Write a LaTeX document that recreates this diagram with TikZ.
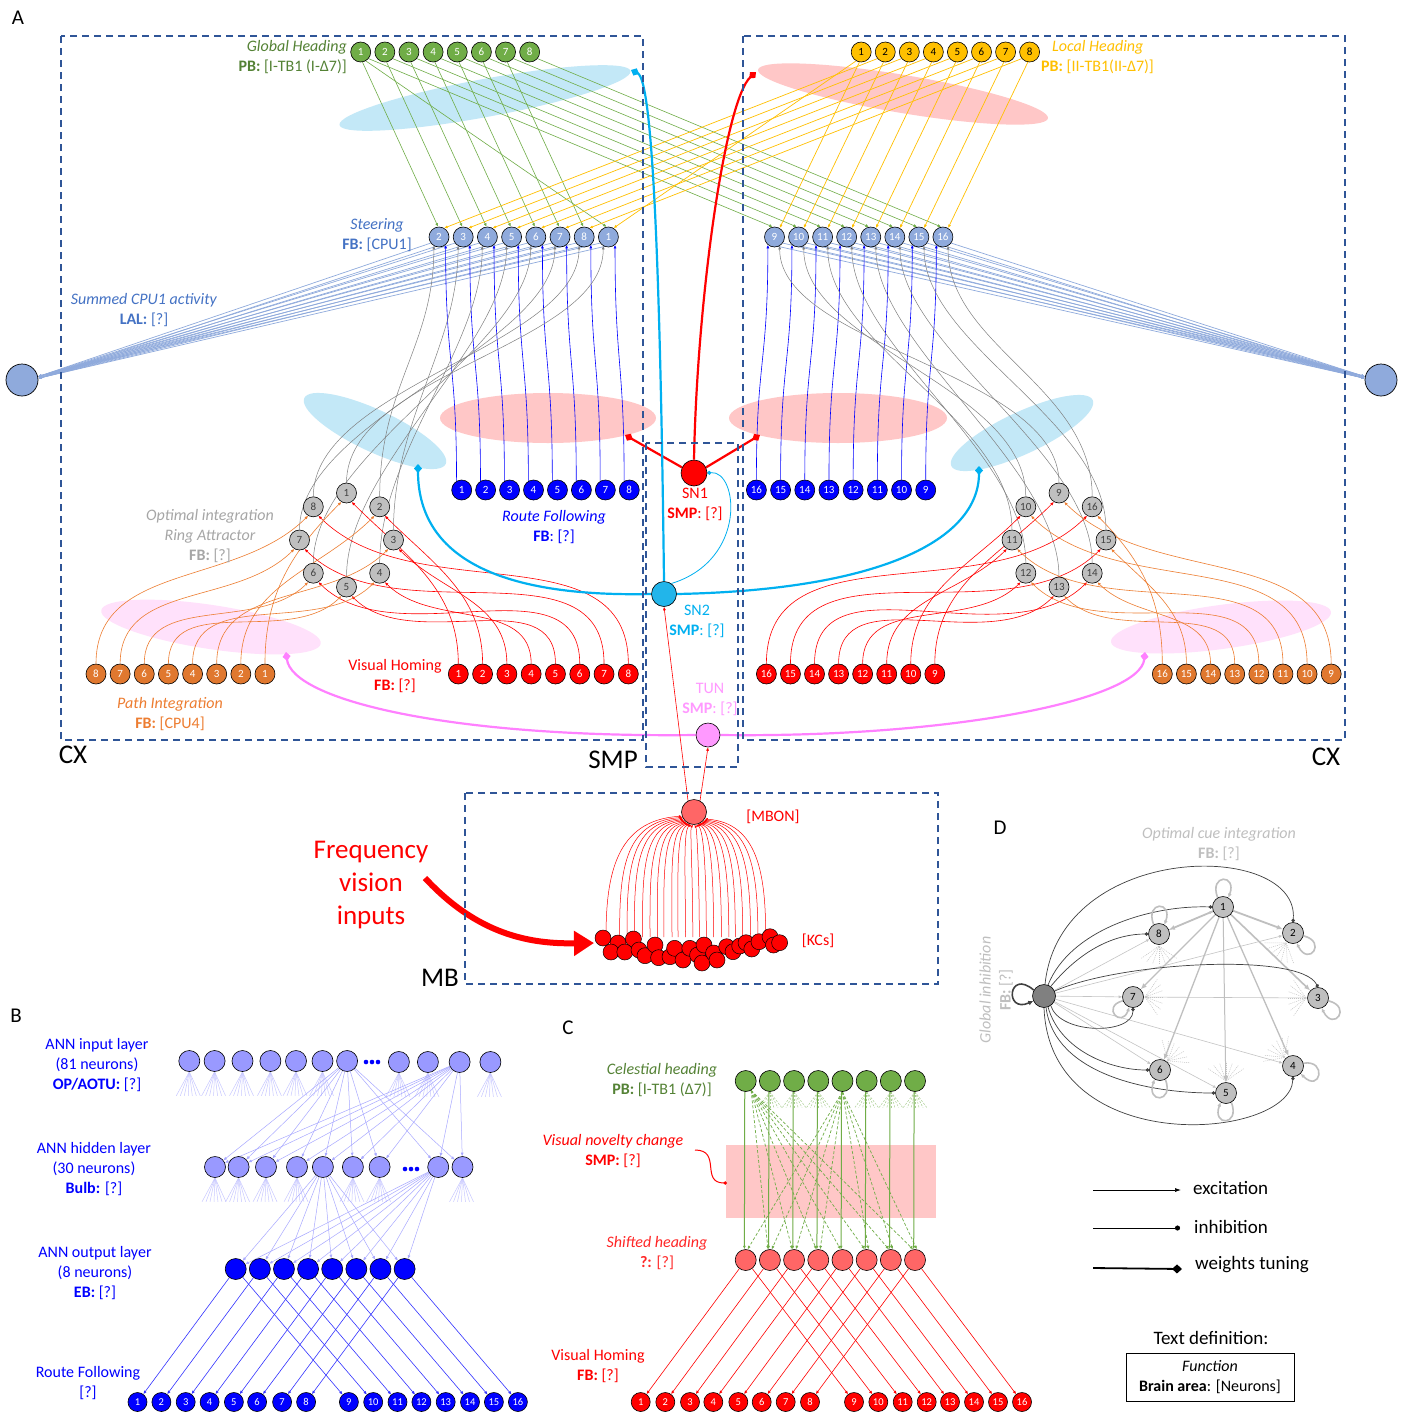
\documentclass[tikz,border=0pt]{standalone}
\usepackage{fontspec}
\setmainfont{Carlito}
\usetikzlibrary{arrows.meta,calc}
\pgfdeclarelayer{ellayer}
\pgfdeclarelayer{edgelayer}
\pgfsetlayers{ellayer,edgelayer,main}
\definecolor{gfill}{HTML}{70AD47}
\definecolor{gtext}{HTML}{548235}
\definecolor{yfill}{HTML}{FFC000}
\definecolor{cpuf}{HTML}{8FAADC}
\definecolor{cput}{HTML}{4472C4}
\definecolor{rfb}{HTML}{0000FF}
\definecolor{ringf}{HTML}{BFBFBF}
\definecolor{ringt}{HTML}{A6A6A6}
\definecolor{ringn}{HTML}{404040}
\definecolor{pif}{HTML}{E0782F}
\definecolor{pit}{HTML}{ED7D31}
\definecolor{sn2c}{HTML}{00B0F0}
\definecolor{sn2f}{HTML}{22B5EA}
\definecolor{tunc}{HTML}{FF80FF}
\definecolor{tunf}{HTML}{FF99FF}
\definecolor{mbonf}{HTML}{FF6666}
\definecolor{boxc}{HTML}{2F5597}
\definecolor{ellb}{HTML}{C3E8F7}
\definecolor{ellr}{HTML}{FFC7C7}
\definecolor{ellp}{HTML}{FFE1FB}
\definecolor{lav}{HTML}{9999FF}
\definecolor{lavl}{HTML}{A8A8FF}
\definecolor{lavs}{HTML}{C8C8FF}
\definecolor{dgray}{HTML}{404040}
\definecolor{lgray}{HTML}{C4C4C4}
\definecolor{dtext}{HTML}{BFBFBF}
\definecolor{shf}{HTML}{FF6666}
\tikzset{
  nd/.style={circle,draw=black,line width=0.6pt,minimum size=20pt,inner sep=0pt,font=\fontsize{11}{11}\selectfont},
  sm/.style={nd,minimum size=19pt,font=\fontsize{10.5}{10.5}\selectfont},
  bn/.style={circle,draw=black,line width=0.6pt,minimum size=21pt,inner sep=0pt},
  lbl/.style={font=\fontsize{16}{20}\selectfont,align=center,inner sep=0pt},
  lgd/.style={font=\fontsize{19}{22}\selectfont,inner sep=0pt},
  big/.style={font=\fontsize{27}{27}\selectfont,inner sep=0pt},
  panl/.style={font=\fontsize{21}{21}\selectfont,inner sep=0pt},
  dbox/.style={draw=boxc,line width=1.6pt,dash pattern=on 7pt off 5pt},
  arr/.style={-{Latex[length=3.5pt,width=3pt]}},
  gline/.style={draw=gfill,line width=0.6pt,arr},
  yline/.style={draw=yfill,line width=0.7pt,arr},
  bline/.style={draw=rfb,line width=0.6pt,arr},
  grline/.style={draw=gray,line width=0.5pt,arr},
  rline/.style={draw=red,line width=0.6pt,arr},
  oline/.style={draw=pit,line width=0.6pt,arr},
  lalline/.style={draw=cpuf,line width=0.7pt,arr},
  wt/.style={line width=2.2pt,-{Diamond[length=9pt,width=8pt]}},
  lavline/.style={draw=lavl,line width=0.5pt,arr},
  lavstub/.style={draw=lavs,line width=0.5pt},
  bbline/.style={draw=rfb!80,line width=0.6pt,arr},
  cgreen/.style={draw=gfill,line width=1pt,arr},
  cdash/.style={draw=gfill,line width=0.7pt,dash pattern=on 3pt off 2pt,arr},
  cstub/.style={draw=gfill!60,line width=0.5pt,dash pattern=on 2pt off 1.5pt},
  dinh/.style={draw=dgray,line width=0.7pt,-{Circle[length=3.5pt]}},
  dlight/.style={draw=lgray,line width=0.6pt,arr},
  dthick/.style={draw=ringf,-{Latex[length=6pt,width=5pt]}},
  dloop/.style={draw=ringf,line width=1.6pt,-{Latex[length=4pt,width=4pt]}},
  dfan/.style={draw=lgray,line width=0.5pt,dash pattern=on 1pt off 1pt},
  kcarc/.style={draw=red,line width=0.5pt,-{Latex[length=3pt,width=2.5pt]}},
}
\begin{document}
\begin{tikzpicture}[x=1pt,y=-1pt]
\useasboundingbox (0,0) rectangle (1408,1414);

% ================= PANEL A nodes =================
\foreach \k in {1,...,8}{
  \node[nd,fill=gfill,text=white] (g\k) at ({360.7+24.14*(\k-1)},52) {\k};
  \node[nd,fill=yfill,text=black] (lh\k) at ({861.2+24.06*(\k-1)},52) {\k};
}
\foreach \k/\l in {1/2,2/3,3/4,4/5,5/6,6/7,7/8,8/1}
  \node[nd,fill=cpuf,text=white] (cl\k) at ({439+24.2*(\k-1)},237) {\l};
\foreach \k [evaluate=\k as \l using int(\k+8)] in {1,...,8}
  \node[nd,fill=cpuf,text=white] (cr\k) at ({774.5+24.06*(\k-1)},237) {\l};
\foreach \k in {1,...,8}
  \node[nd,fill=rfb,text=white] (rl\k) at ({461.7+23.94*(\k-1)},490) {\k};
\foreach \k [evaluate=\k as \l using int(17-\k)] in {1,...,8}
  \node[nd,fill=rfb,text=white] (rr\k) at ({756.4+24.19*(\k-1)},490) {\l};
\foreach \k in {1,...,8}
  \node[nd,fill=red,text=white] (vl\k) at ({458.3+24.29*(\k-1)},674) {\k};
\foreach \k [evaluate=\k as \l using int(17-\k)] in {1,...,8}
  \node[nd,fill=red,text=white] (vr\k) at ({766.4+24.06*(\k-1)},674) {\l};
\foreach \k [evaluate=\k as \l using int(9-\k)] in {1,...,8}
  \node[nd,fill=pif,text=white] (pl\k) at ({96+24.14*(\k-1)},674) {\l};
\foreach \k [evaluate=\k as \l using int(17-\k)] in {1,...,8}
  \node[nd,fill=pif,text=white] (pr\k) at ({1162.3+24.13*(\k-1)},674) {\l};
\foreach \n/\x/\y in {1/346.5/493,2/379.7/506.8,3/393.5/540,4/379.7/573.2,5/346.5/587,6/313.3/573.2,7/299.5/540,8/313.3/506.8,9/1059/493,10/1025.8/506.8,11/1012/540,12/1025.8/573.2,13/1059/587,14/1092.2/573.2,15/1106/540,16/1092.2/506.8}
  \node[nd,fill=ringf,text=ringn] (oa\n) at (\x,\y) {\n};

\node[circle,draw=black,line width=0.7pt,fill=cpuf,minimum width=32pt,inner sep=0pt] (lalL) at (22,380) {};
\node[circle,draw=black,line width=0.7pt,fill=cpuf,minimum width=32pt,inner sep=0pt] (lalR) at (1381,380) {};
\node[circle,draw=black,line width=0.6pt,fill=red,minimum size=26pt,inner sep=0pt] (sn1) at (694,473) {};
\node[circle,draw=black,line width=0.6pt,fill=sn2f,minimum size=25pt,inner sep=0pt] (sn2) at (664,594) {};
\node[circle,draw=black,line width=0.6pt,fill=tunf,minimum size=24pt,inner sep=0pt] (tun) at (708,735) {};
\node[circle,draw=black,line width=0.6pt,fill=mbonf,minimum size=25pt,inner sep=0pt] (mbon) at (694,812) {};

\coordinate (tw1) at (631,70);
\coordinate (tw2) at (418,464);
\coordinate (tw3) at (979,466);
\coordinate (tr1) at (756,72);
\coordinate (tr2) at (625,435);
\coordinate (tr3) at (760,435);
\coordinate (tp1) at (286,652);
\coordinate (tp2) at (1145,652);

% KCs
\foreach \x/\y [count=\i] in {603/938,618/943,633.4/939,611/952,624.8/952,639/950,645/955.7,655/945,658.6/957.7,670/956.7,674.6/948.3,683/960,689.8/948.3,697.6/955,702/963,704/945,713.6/953,717/960,726.7/946.7,733/951.7,739.7/946,746/942.7,751.8/949,759/941.7,770/936.7,773.5/945,779.6/942.7}
  \node[circle,draw=black,line width=0.5pt,fill=red,minimum size=16pt,inner sep=0pt] (kc\i) at (\x,\y) {};
\foreach \x [count=\i] in {606,619.6,627,634.3,642.5,650,657.3,663.8,672,678,685.5,692.8,699.3,706.3,713.6,721.4,728.8,735.3,742.7,750.5,757.9,765.7}
  \coordinate (kb\i) at (\x,937);
\coordinate (fv1) at (425,878);
\coordinate (fv2) at (594,943);

% ================= background ellipses =================
\begin{pgfonlayer}{ellayer}
\fill[white] (0,0) rectangle (1408,1414);
\fill[ellb,rotate around={10.5:(485,98)}] (485,98) ellipse [x radius=148pt,y radius=19pt];
\fill[ellr,rotate around={-9.5:(903,94)}] (903,94) ellipse [x radius=147pt,y radius=19pt];
\fill[ellr] (548,418) ellipse [x radius=108pt,y radius=25pt];
\fill[ellr] (838,418) ellipse [x radius=109pt,y radius=25pt];
\fill[ellb,rotate around={-25:(375,431)}] (375,431) ellipse [x radius=78pt,y radius=21pt];
\fill[ellb,rotate around={25:(1022,433)}] (1022,433) ellipse [x radius=78pt,y radius=21pt];
\fill[ellp,rotate around={-8.6:(211,627)}] (211,627) ellipse [x radius=111pt,y radius=22pt];
\fill[ellp,rotate around={7.8:(1221,627)}] (1221,627) ellipse [x radius=111pt,y radius=22pt];
\fill[ellr] (726,1145) rectangle (936,1218);
\end{pgfonlayer}

% ================= PANEL A edges =================
\begin{pgfonlayer}{edgelayer}
% green
\foreach \k in {1,...,7} \draw[gline] (g\k.-80) -- (cl\k.95);
\draw[gline] (g1.-60) -- (cl8.100);
\foreach \k in {1,...,8} \draw[gline] (g\k.-40) -- (cr\k.100);
% yellow
\foreach \k in {1,...,8} \draw[yline] (lh\k.-100) -- (cr\k.60);
\draw[yline] (lh1.-120) -- (cl8.60);
\foreach \k [evaluate=\k as \j using int(\k-1)] in {2,...,8} \draw[yline] (lh\k.-140) -- (cl\j.60);
% LAL fans
\foreach \k in {1,...,8}{
  \draw[lalline] ($(cl\k)+(-8,6)$) -- (lalL.12);
  \draw[lalline] ($(cl\k)+(-2,9)$) -- (lalL.6);
  \draw[lalline] ($(cr\k)+(8,6)$) -- (lalR.168);
  \draw[lalline] ($(cr\k)+(2,9)$) -- (lalR.174);
}
% route following -> CPU1
\foreach \k in {1,...,8}{
  \draw[bline] (rl\k.120) .. controls +(0,-120) and +(0,120) .. (cl\k.-50);
  \draw[bline] (rr\k.90) .. controls +(0,-120) and +(0,120) .. (cr\k.-130);
}
% ring -> CPU1 (grey)
\foreach \n/\s in {2/1,3/2,4/3,5/4,6/5,7/6,8/7,1/8}
  \draw[grline] (oa\n.north) .. controls +(0,-110) and +(0,100) .. (cl\s.-120);
\foreach \m/\s in {9/1,10/2,11/3,12/4,13/5,14/6,15/7,16/8}
  \draw[grline] (oa\m.north) .. controls +(0,-110) and +(0,100) .. (cr\s.-60);
% visual homing -> ring
\foreach \k in {1,...,8}
  \draw[rline] (vl\k.north) to[out=90,in=-45] (oa\k.-60);
\foreach \k [evaluate=\k as \n using int(17-\k)] in {1,...,8}
  \draw[rline] (vr\k.north) to[out=90,in=-135] (oa\n.-120);
% path integration -> ring
\foreach \k [evaluate=\k as \n using int(9-\k)] in {1,...,8}
  \draw[oline] (pl\k.north) to[out=90,in=-135] (oa\n.-120);
\foreach \k [evaluate=\k as \n using int(17-\k)] in {1,...,8}
  \draw[oline] (pr\k.north) to[out=90,in=-45] (oa\n.-60);
% SN1
\draw[wt,red] (sn1.155) -- (tr2);
\draw[wt,red] (sn1.25) -- (tr3);
\draw[wt,red] (sn1.north) .. controls (697,300) and (725,100) .. (tr1);
% SN2
\draw[wt,sn2c] (sn2.north) .. controls (660,250) and (652,80) .. (tw1);
\draw[wt,sn2c] (sn2.west) .. controls (470,598) and (418,540) .. (tw2);
\draw[wt,sn2c] (sn2.east) .. controls (880,590) and (979,540) .. (tw3);
\draw[sn2c,line width=0.8pt,-{Circle[length=4pt]}] (sn2.55) .. controls (748,560) and (738,470) .. (sn1.east);
% TUN
\draw[wt,tunc] (tun.west) .. controls (450,738) and (292,700) .. (tp1);
\draw[wt,tunc] (tun.east) .. controls (950,738) and (1140,700) .. (tp2);
% MBON
\draw[rline] (mbon.118) -- (sn2.south);
\draw[rline] (mbon.62) -- (tun.south);
\foreach \i [evaluate=\i as \xx using {606+(\i-1)*7.605}] in {1,...,22}{
  \pgfmathtruncatemacro{\aa}{270+(\xx-694)*0.8}
  \path (mbon.\aa) coordinate (mend\i);
  \draw[kcarc] (kb\i) .. controls ($(kb\i)+(0,-62)$) and ($(mend\i)+({(\xx-694)*0.75},4)$) .. (mend\i);
}
\end{pgfonlayer}
\draw[red,line width=6pt,-{Triangle[length=20pt,width=24pt]}] (fv1) .. controls (478,935) and (530,944) .. (fv2);

% boxes
\draw[dbox] (61,36) rectangle (643,740);
\draw[dbox] (743,36) rectangle (1345,740);
\draw[dbox] (646,443) rectangle (738,767);
\draw[dbox] (465,793) rectangle (938,984);

% labels A
\node[panl] (labA) at (18,18) {A};
\node[lbl,text=gtext,anchor=east,align=right] (tgh) at (347,57) {\textit{Global Heading}\\\textbf{PB:} [I-TB1 (I-Δ7)]};
\node[lbl,text=yfill,anchor=west,align=left] (tlh) at (1041,57) {\hspace*{11pt}\textit{Local Heading}\\\textbf{PB:} [II-TB1(II-Δ7)]};
\node[lbl,text=cput] (tst) at (377,235) {\textit{Steering}\\\textbf{FB:} [CPU1]};
\node[lbl,text=cput] (tsum) at (144,310) {\textit{Summed CPU1 activity}\\\textbf{LAL:} [?]};
\node[lbl,text=ringt] (topt) at (210,536) {\textit{Optimal integration}\\\textit{Ring Attractor}\\\textbf{FB:} [?]};
\node[lbl,text=rfb] (trf) at (554,527) {\textit{Route Following}\\\textbf{FB}: [?]};
\node[lbl,text=red] (tvh) at (395,676) {Visual Homing\\\textbf{FB:} [?]};
\node[lbl,text=pit] (tpi) at (170,714) {\textit{Path Integration}\\\textbf{FB:} [CPU4]};
\node[lbl,text=red] (tsn1) at (695,504) {SN1\\\textbf{SMP}: [?]};
\node[lbl,text=sn2c] (tsn2) at (697,621) {SN2\\\textbf{SMP}: [?]};
\node[lbl,text=tunf] (ttun) at (710,699) {TUN\\\textbf{SMP}: [?]};
\node[lbl,text=red] (tmbon) at (773,817) {[MBON]};
\node[lbl,text=red] (tkc) at (818,941) {[KCs]};
\node[big] (tcx1) at (73,755) {CX};
\node[big] (tsmp) at (613,760) {SMP};
\node[big] (tcx2) at (1326,757) {CX};
\node[big] (tmb) at (440,978) {MB};
\node[font=\fontsize{27}{33}\selectfont,align=center,inner sep=0pt,text=red] (tfreq) at (371,885) {Frequency\\vision\\inputs};

% ================= PANEL B =================
\node[panl] (labB) at (16,1016) {B};
\foreach \x/\y [count=\i] in {189.3/1061,214.6/1061,242.5/1061,270.4/1061,296/1061,322.5/1061,347.1/1061,398.9/1062,427.9/1062,459.6/1062,490.4/1062}
  \node[bn,fill=lav] (in\i) at (\x,\y) {};
\foreach \x [count=\i] in {215,238.6,266,297,322.9,352.9,379.6,438.2,462.5}
  \node[bn,fill=lav] (hd\i) at (\x,1167) {};
\foreach \k in {1,...,8}
  \node[bn,fill=rfb] (op\k) at ({235.7+24.13*(\k-1)},1269) {};
\foreach \x [count=\i] in {137.5,161.4,185.7,209.6,233.9,257.1,282.1,306.1,348.9,373.2,397.5,421.4,445.7,470,493.9,517.9}
  \node[sm,fill=rfb,text=white] (rf\i) at (\x,1402) {\i};
\foreach \x in {366,372,378} \fill[rfb] (\x,1062) circle (2.3pt);
\foreach \x in {405,411,417} \fill[rfb] (\x,1169) circle (2.3pt);
\begin{pgfonlayer}{edgelayer}
\foreach \i in {1,2,3,4,5,6,8,9,11}
  \foreach \d in {-13,-9,-5,-1,3,7,11}
    \draw[lavstub] (in\i.south) -- ++(\d,24);
\foreach \i in {1,2,3,4,6,7,9}
  \foreach \d in {-13,-9,-5,-1,3,7,11}
    \draw[lavstub] (hd\i.south) -- ++(\d,24);
\foreach \j in {1,...,9}{
  \draw[lavline] (in7) -- (hd\j);
  \draw[lavline] (in10) -- (hd\j);
}
\foreach \j in {1,...,8}{
  \draw[lavline] (hd5) -- (op\j);
  \draw[lavline] (hd8) -- (op\j);
}
\foreach \k [evaluate=\k as \m using int(\k+8)] in {1,...,8}{
  \draw[bbline] (op\k) -- (rf\k);
  \draw[bbline] (op\k) -- (rf\m);
}
\end{pgfonlayer}
\node[lbl,text=rfb] (tin) at (97,1065) {ANN input layer\\(81 neurons)\\\textbf{OP/AOTU:} [?]};
\node[lbl,text=rfb] (thd) at (94,1169) {ANN hidden layer\\(30 neurons)\\\textbf{Bulb:} [?]};
\node[lbl,text=rfb] (top) at (95,1273) {ANN output layer\\(8 neurons)\\\textbf{EB:} [?]};
\node[lbl,text=rfb] (trfb) at (88,1383) {Route Following\\{[?]}};

% ================= PANEL C =================
\node[panl] (labC) at (568,1028) {C};
\foreach \k in {1,...,8}{
  \node[bn,fill=gfill] (cg\k) at ({745.7+24.19*(\k-1)},1081) {};
  \node[bn,fill=shf] (sh\k) at ({745.7+24.19*(\k-1)},1260) {};
}
\foreach \x [count=\i] in {640.7,665.3,690,713.3,738.3,761.7,785.7,810,854,878.3,902.7,926.7,950,974,998,1022}
  \node[sm,fill=red,text=white] (cv\i) at (\x,1402) {\i};
\coordinate (wv1) at (695,1150);
\coordinate (wv2) at (727,1183);
\begin{pgfonlayer}{edgelayer}
\foreach \k in {2,3,4,6,7,8}
  \foreach \d in {-12,-8,-4,0,4,8,12}
    \draw[cstub] (cg\k.south) -- ++(\d,16);
\foreach \k in {1,...,8} \draw[cgreen] (cg\k.-95) -- (sh\k.97);
\foreach \j in {2,...,8} \draw[cdash] (cg1.-60) -- (sh\j.100);
\foreach \j in {1,2,3,4,6,7,8} \draw[cdash] (cg5.-90) -- (sh\j.80);
\foreach \k [evaluate=\k as \m using int(\k+8)] in {1,...,8}{
  \draw[rline] (sh\k) -- (cv\k);
  \draw[rline] (sh\k) -- (cv\m);
}
\draw[red,line width=1pt,-{Circle[length=3.5pt]}] (wv1) .. controls (722,1150) and (700,1183) .. (wv2);
\end{pgfonlayer}
\node[lbl,text=gtext] (tcel) at (662,1080) {\textit{Celestial heading}\\\textbf{PB:} [I-TB1 (Δ7)]};
\node[lbl,text=red] (tnov) at (613,1151) {\textit{Visual novelty change}\\\textbf{SMP:} [?]};
\node[lbl,text=red!85] (tshf) at (657,1253) {\textit{Shifted heading}\\\textbf{?:} [?]};
\node[lbl,text=red] (tcvh) at (598,1366) {Visual Homing\\\textbf{FB:} [?]};

% ================= PANEL D =================
\node[panl] (labD) at (1000,828) {D};
\node[lbl,text=dtext] (tocue) at (1219,844) {\textit{Optimal cue integration}\\\textbf{FB:} [?]};
\node[lbl,text=dtext,rotate=90] (tgin) at (985,990) {\textit{Global inhibition}};
\node[lbl,text=dtext,rotate=90] (tgfb) at (1006,990) {\textbf{FB:} [?]};
\foreach \n/\x/\y in {1/1223/907,2/1293/933,3/1318/998,4/1293/1066,5/1226/1093,6/1160/1070,7/1133/997,8/1159/934}
  \node[nd,fill=ringf,text=black,minimum size=21pt] (d\n) at (\x,\y) {\n};
\node[circle,draw=black,line width=0.6pt,fill=gray,minimum size=23pt,inner sep=0pt] (gi) at (1044,996) {};
\begin{pgfonlayer}{edgelayer}
\foreach \nd/\ang in {d8/-90,d2/-125,d3/180,d4/135,d5/90,d6/50,d7/0}
  \foreach \s in {-36,-24,-12,0,12,24,36}
    \draw[dfan] ($(\nd)+({30*cos(\ang+\s)},{-30*sin(\ang+\s)})$) -- ($(\nd)+({12*cos(\ang)},{-12*sin(\ang)})$);
\draw[dlight] (gi) -- (d8);
\draw[dlight] (gi) -- (d2);
\draw[dlight] (gi) -- (d4);
\draw[dlight] (gi) -- (d5);
\draw[dlight] (gi) -- (d6);
\draw[dlight] (gi) -- (d7);
\draw[dlight] (d3) -- (d7);
\draw[dlight] (d8) -- (d1);
\foreach \t/\w in {d8/1.8,d2/1.8,d3/1.6,d4/1.3,d5/1,d6/1.3,d7/1.3}
  \draw[dthick,line width=\w pt] (d1) -- (\t);
\draw[dinh] (gi.70) .. controls (1070,930) and (1150,905) .. (d1.west);
\draw[dinh] (gi.55) .. controls (1085,945) and (1120,934) .. (d8.west);
\draw[dinh] (gi.85) .. controls (1060,840) and (1300,840) .. (d2.north);
\draw[dinh] (gi.25) .. controls (1120,962) and (1300,952) .. (d3.north);
\draw[dinh] (gi.-55) .. controls (1060,1035) and (1133,1035) .. (d7.south);
\draw[dinh] (gi.-70) .. controls (1060,1050) and (1110,1070) .. (d6.west);
\draw[dinh] (gi.-80) .. controls (1055,1075) and (1150,1093) .. (d5.west);
\draw[dinh] (gi.-90) .. controls (1050,1160) and (1290,1140) .. (d4.south);
\draw[dgray,line width=1.6pt,-{Latex[length=5pt,width=5pt]}] (gi.150) .. controls (1008,968) and (1004,1014) .. (gi.205);
\draw[dloop] (d1.120) .. controls +(-9,-24) and +(9,-24) .. (d1.60);
\draw[dloop] (d8.120) .. controls +(-9,-24) and +(9,-24) .. (d8.60);
\draw[dloop] (d2.-15) .. controls +(24,6) and +(12,24) .. (d2.-70);
\draw[dloop] (d3.-15) .. controls +(24,6) and +(12,24) .. (d3.-70);
\draw[dloop] (d4.15) .. controls +(24,-4) and +(20,20) .. (d4.-45);
\draw[dloop] (d5.-60) .. controls +(9,24) and +(-9,24) .. (d5.-120);
\draw[dloop] (d6.-60) .. controls +(9,24) and +(-9,24) .. (d6.-120);
\draw[dloop] (d7.200) .. controls +(-22,6) and +(-8,22) .. (d7.250);
\end{pgfonlayer}

% ================= Legend =================
\coordinate (la1) at (1093,1190); \coordinate (la2) at (1181,1190);
\coordinate (lb1) at (1093,1228); \coordinate (lb2) at (1180,1228);
\coordinate (lc1) at (1093,1268); \coordinate (lc2) at (1182,1269);
\draw[black,line width=0.7pt,-{Latex[length=6pt,width=4pt]}] (la1) -- (la2);
\draw[black,line width=0.7pt,-{Circle[length=5pt]}] (lb1) -- (lb2);
\draw[black,line width=1.8pt,-{Diamond[length=10pt,width=9pt]}] (lc1) -- (lc2);
\node[lgd,anchor=west] (lex) at (1193,1188) {excitation};
\node[lgd,anchor=west] (lin) at (1194,1227) {inhibition};
\node[lgd,anchor=west] (lwt) at (1195,1265) {weights tuning};
\node[lgd] (ltd) at (1211,1338) {Text definition:};
\node[draw=black,line width=0.8pt,minimum width=168pt,minimum height=48pt,align=center,font=\fontsize{16}{20}\selectfont,inner sep=0pt] (ltbox) at (1210,1377) {\textit{Function}\\\textbf{Brain area}: [Neurons]};
\end{tikzpicture}
\end{document}
